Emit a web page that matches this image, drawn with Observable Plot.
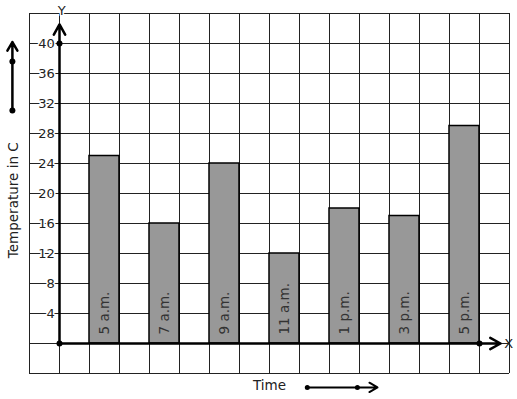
<!DOCTYPE html>
<html>
<head>
<meta charset="utf-8">
<script src="https://cdn.jsdelivr.net/npm/d3@7"></script>
<script src="https://cdn.jsdelivr.net/npm/@observablehq/plot@0.6"></script>
<style>
  html, body { margin: 0; padding: 0; background: #fff; }
  #chart svg { display: block; }
</style>
</head>
<body>
<div id="chart"></div>
<script>
// ---- data ----
const times = ["5 a.m.", "7 a.m.", "9 a.m.", "11 a.m.", "1 p.m.", "3 p.m.", "5 p.m."];
const temps = [25, 16, 24, 12, 18, 17, 29];
const yTicks = [4, 8, 12, 16, 20, 24, 28, 32, 36, 40];
const yTitle = "Temperature in C";
const xTitle = "Time";

// ---- derived tables ----
const bars = times.map((t, i) => ({time: t, temp: temps[i], x1: 2 + 2 * i, x2: 3 + 2 * i, xm: 2.5 + 2 * i}));
const gridX = d3.range(0, 17);
const gridY = d3.range(-4, 45, 4);

const font = "DejaVu Sans";

const chart = Plot.plot({
  width: 517,
  height: 399,
  margin: 0,
  style: {fontFamily: font, background: "#fff"},
  x: {domain: [0, 16], range: [29, 509], axis: null},
  y: {domain: [-4, 44], range: [373, 13], axis: null},
  marks: [
    // grid
    Plot.ruleX(gridX, {x: d => d, y1: -4, y2: 44, stroke: "#222", strokeWidth: 1}),
    Plot.ruleY(gridY, {y: d => d, x1: 0, x2: 16, stroke: "#222", strokeWidth: 1}),
    // bars
    Plot.rect(bars, {x1: "x1", x2: "x2", y1: 0, y2: "temp", fill: "#989898", stroke: "#000", strokeWidth: 1.5}),
    // bar labels
    Plot.text(bars, {x: "xm", y: 0, text: "time", rotate: -90, textAnchor: "start", dy: -9, fill: "#333", fontSize: 13.5}),
    // axes
    Plot.arrow([{x1: 1, y1: 0, x2: 15.7, y2: 0}], {x1: "x1", y1: "y1", x2: "x2", y2: "y2", stroke: "#000", strokeWidth: 2.5, headLength: 7, headAngle: 58}),
    Plot.arrow([{x1: 1, y1: 0, x2: 1, y2: 42.55}], {x1: "x1", y1: "y1", x2: "x2", y2: "y2", stroke: "#000", strokeWidth: 2.5, headLength: 7, headAngle: 58}),
    Plot.dot([{x: 1, y: 0}, {x: 1, y: 40}, {x: 15, y: 0}], {x: "x", y: "y", r: 3, fill: "#000"}),
    // tick labels
    Plot.text(yTicks, {x: 0.84, y: d => d, text: d => String(d), textAnchor: "end", fill: "#222", stroke: "#fff", strokeWidth: 3, fontSize: 13}),
    // axis letters
    Plot.text(["Y"], {x: 1.07, y: 44.35, text: d => d, fill: "#222", stroke: "#fff", strokeWidth: 3, fontSize: 13}),
    Plot.text(["X"], {x: 15.97, y: 0, text: d => d, fill: "#222", fontSize: 13}),
    // y title + arrow
    Plot.text([yTitle], {x: -0.52, y: 19.1, text: d => d, rotate: -90, fill: "#222", fontSize: 13.5}),
    Plot.arrow([{x1: -0.57, y1: 31.07, x2: -0.57, y2: 40.2}], {x1: "x1", y1: "y1", x2: "x2", y2: "y2", stroke: "#000", strokeWidth: 2.5, headLength: 6, headAngle: 60}),
    Plot.dot([{x: -0.57, y: 31.07}, {x: -0.57, y: 37.6}], {x: "x", y: "y", r: 3, fill: "#000"}),
    // x title + arrow
    Plot.text([xTitle], {x: 8, y: -5.6, text: d => d, fill: "#222", fontSize: 13.5}),
    Plot.arrow([{x1: 9.26, y1: -5.85, x2: 11.6, y2: -5.85}], {x1: "x1", y1: "y1", x2: "x2", y2: "y2", stroke: "#000", strokeWidth: 2, headLength: 7, headAngle: 60}),
    Plot.dot([{x: 9.26, y: -5.85}, {x: 10.93, y: -5.85}], {x: "x", y: "y", r: 2.5, fill: "#000"})
  ]
});
document.getElementById("chart").append(chart);
</script>
</body>
</html>
